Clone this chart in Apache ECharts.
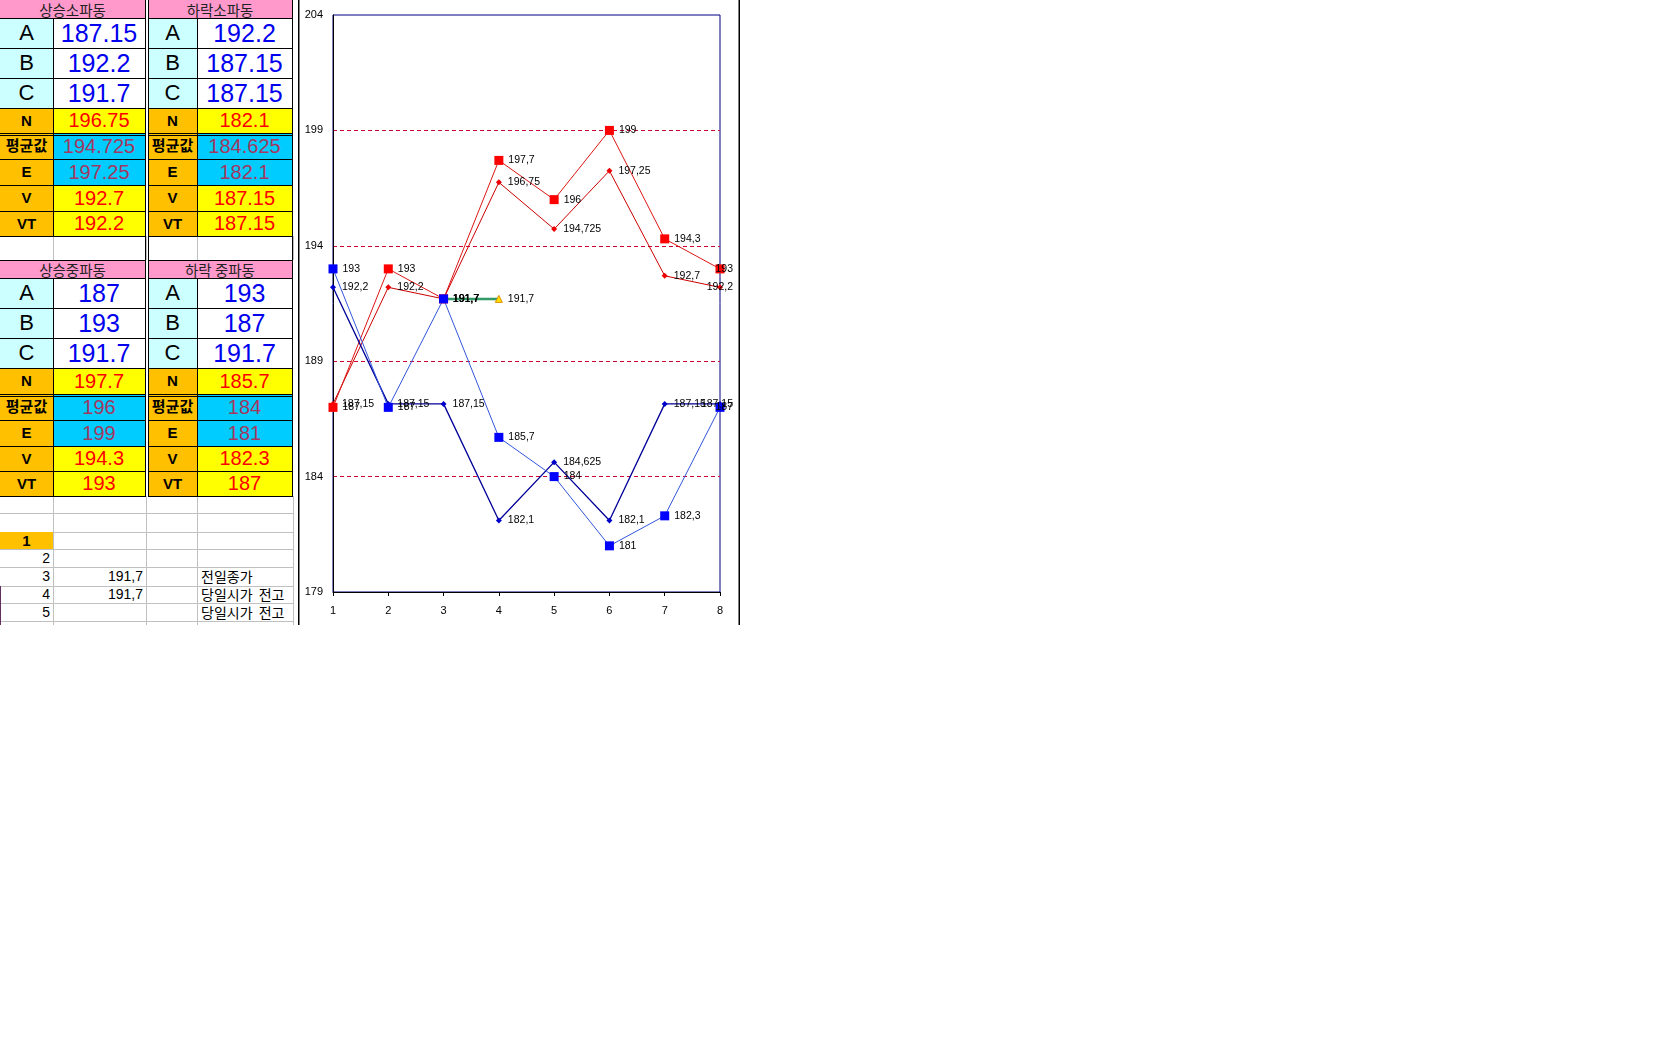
<!DOCTYPE html>
<html><head><meta charset="utf-8">
<script src="https://cdn.jsdelivr.net/npm/echarts@6/dist/echarts.min.js"></script>
<style>
html,body{margin:0;padding:0;background:#fff;width:1680px;height:1050px;overflow:hidden;}
#sheet{position:absolute;left:0;top:0;width:298px;height:625px;overflow:hidden;font-family:'Liberation Sans','Noto Sans CJK KR',Arial,sans-serif;}
.c{position:absolute;box-sizing:border-box;display:flex;align-items:center;justify-content:center;white-space:nowrap;overflow:hidden;}
#chart{position:absolute;left:298px;top:0;width:442px;height:625px;}
</style></head><body>
<div id="sheet"></div>
<div id="chart"></div>
<script>
// ---------- data ----------
const categories = ['1','2','3','4','5','6','7','8'];
const rowLabels = ['A','B','C','N','평균값','E','V','VT'];
const upSmall   = [187.15, 192.2, 191.7, 196.75, 194.725, 197.25, 192.7, 192.2];
const downSmall = [192.2, 187.15, 187.15, 182.1, 184.625, 182.1, 187.15, 187.15];
const upMid     = [187, 193, 191.7, 197.7, 196, 199, 194.3, 193];
const downMid   = [193, 187, 191.7, 185.7, 184, 181, 182.3, 187];
const prevClose = [null, null, 191.7, 191.7, null, null, null, null];
const titles = ['상승소파동','하락소파동','상승중파동','하락 중파동'];
const yMin = 179, yMax = 204, yStep = 5;
const sheetRowNums = ['1','2','3','4','5'];
const sheetValues = ['', '', '191,7', '191,7', ''];
const sheetNotes = ['', '', '전일종가', '당일시가 전고', '당일시가 전고'];

// ---------- spreadsheet ----------
const sheet = document.getElementById('sheet');
function box(x0,y0,x1,y1,css,text){
  const d=document.createElement('div'); d.className='c';
  d.style.cssText = `left:${x0}px;top:${y0}px;width:${x1-x0}px;height:${y1-y0}px;line-height:${y1-y0}px;`+(css||'');
  if(text!==undefined) d.textContent=text; sheet.appendChild(d); return d;
}
function hline(x0,x1,y,color,w){ box(x0,y,x1,y+(w||1),'background:'+color); }
function vline(x,y0,y1,color,w){ box(x,y0,x+(w||1),y1,'background:'+color); }

const GRAY='#C0C0C0';
[53,146,197,293].forEach(x=>{ vline(x,236,260,GRAY); vline(x,496,625,GRAY); });
[513,532,549,567,586,603,621].forEach(y=>hline(0,293,y,GRAY));
vline(0,586,625,'#603060');

const topRows = [0,18,48,78,108,133,159,185,211,236];
const botRows = [260,278,308,338,368,394,420,446,471,496];
const tables = [
  {rows:topRows, x:[0,53,145], vals:upSmall, title:titles[0]},
  {rows:topRows, x:[148,197,292], vals:downSmall, title:titles[1]},
  {rows:botRows, x:[0,53,145], vals:upMid, title:titles[2]},
  {rows:botRows, x:[148,197,292], vals:downMid, title:titles[3]},
];
function styleFor(i){
  if(i<3) return {lb:'#CCFFFF', lc:'font-size:22px;color:#000;', vb:'#FFFFFF', vc:'font-size:25px;color:#0000EE;'};
  if(i===4||i===5) return {lb:'#FFC000', lc:'font-size:15px;font-weight:bold;color:#000;', vb:'#00CCFF', vc:'font-size:20px;color:#A33860;'};
  return {lb:'#FFC000', lc:'font-size:15px;font-weight:bold;color:#000;', vb:'#FFFF00', vc:'font-size:20px;color:#FF0000;'};
}
tables.forEach(t=>{
  const r=t.rows, x=t.x;
  box(x[0],r[0],x[2],r[1],'background:#FF99CC;');
  box(x[0],r[0]-2,x[2],r[1]+2,'overflow:visible;font-family:"Noto Sans CJK KR";font-size:14.5px;line-height:16px;color:#222;padding-top:1px;',t.title);
  rowLabels.forEach((lab,i)=>{
    const s=styleFor(i);
    box(x[0],r[i+1],x[1],r[i+2],'background:'+s.lb+';'+s.lc,lab);
    box(x[1],r[i+1],x[2],r[i+2],'background:'+s.vb+';'+s.vc,String(t.vals[i]));
  });
  r.forEach((y,k)=>{ if(k>0 || r[0]>0) hline(x[0],x[2]+1,y,'#000'); });
  hline(x[0],x[2]+1,r[5]+2,'#000');
  vline(x[1],r[1],r[r.length-1],'#000');
  vline(x[2],r[0],r[r.length-1]+1,'#000');
  if(x[0]>0) vline(x[0],r[0],r[r.length-1]+1,'#000');
});
vline(145,236,260,'#000'); vline(148,236,260,'#000'); vline(292,236,260,'#000');

const lowRows=[532,549,567,586,603,621];
sheetRowNums.forEach((n,i)=>{
  const y0=lowRows[i], y1=lowRows[i+1];
  if(i===0){ box(0,y0,53,y1,'background:#FFC000;font-size:15px;font-weight:bold;color:#000;',n); }
  else box(0,y0,53,y1,'justify-content:flex-end;padding-right:3px;font-size:14px;color:#000;',n);
  if(sheetValues[i]) box(53,y0,146,y1,'justify-content:flex-end;padding-right:3px;font-size:14px;color:#000;',sheetValues[i]);
  if(sheetNotes[i]) box(197,y0,296,y1,'overflow:visible;justify-content:flex-start;padding-left:4px;font-size:14px;color:#000;font-family:"Noto Sans CJK KR";word-spacing:3px;',sheetNotes[i]);
});

// ---------- chart ----------
const chart = echarts.init(document.getElementById('chart'), null, {renderer:'canvas'});
const labelFmt = p => String(p.value).replace('.', ',');
const LABEL_LIMIT = 435;
function mk(name, data, lineColor, lineWidth, symbol, symbolSize, symbolColor, dist){
  return {
    name, type:'line', data, symbol, symbolSize, showAllSymbol:true, clip:false,
    lineStyle:{color:lineColor, width:lineWidth},
    itemStyle:{color:symbolColor, borderWidth:0},
    label:{show:true, position:'right', distance:dist, formatter:labelFmt, color:'#000', fontSize:10.5, fontFamily:'Liberation Sans, Arial, sans-serif'},
    labelLayout: function(params){
      const r = params.labelRect;
      if (r.x + r.width > LABEL_LIMIT) return {dx: LABEL_LIMIT - (r.x + r.width)};
      return {};
    },
    emphasis:{disabled:true}, silent:true
  };
}
const firstPrev = prevClose.findIndex(v=>v!=null);
const green = mk('전일종가', prevClose, '#339966', 2.5, (v,p)=> p.dataIndex===firstPrev ? 'none' : 'triangle', 7, '#FFE000', 5);
green.itemStyle = {color:'#FFE000', borderColor:'#E09000', borderWidth:1};

chart.setOption({
  animation:false,
  backgroundColor:'#fff',
  grid:{left:35, top:15, width:387, height:577, show:true, borderColor:'#000080', borderWidth:1, backgroundColor:'#fff'},
  xAxis:{type:'category', data:categories, boundaryGap:false,
    axisLine:{lineStyle:{color:'#000', width:1}},
    axisTick:{show:true, length:4, lineStyle:{color:'#000'}},
    axisLabel:{color:'#000', fontSize:11, margin:13, fontFamily:'Liberation Sans, Arial, sans-serif'},
    splitLine:{show:false}},
  yAxis:{type:'value', min:yMin, max:yMax, interval:yStep,
    axisLine:{show:true, lineStyle:{color:'#000', width:1}},
    axisTick:{show:false},
    axisLabel:{color:'#000', fontSize:11, margin:10, fontFamily:'Liberation Sans, Arial, sans-serif'},
    splitLine:{show:true, showMinLine:false, showMaxLine:false, lineStyle:{color:'#CC0033', type:[4,3], width:1}}},
  graphic:[
    {type:'rect', shape:{x:0, y:0, width:1.5, height:625}, style:{fill:'#000'}, silent:true},
    {type:'rect', shape:{x:440.5, y:0, width:1.5, height:625}, style:{fill:'#000'}, silent:true}
  ],
  series:[
    mk('상승소파동', upSmall, '#CC0000', 1, 'diamond', 6, '#EE0000', 6),
    mk('상승중파동', upMid, '#DD1515', 1, 'rect', 9, '#FF0000', 5),
    mk('하락소파동', downSmall, '#000099', 1.3, 'diamond', 6, '#0000CC', 6),
    mk('하락중파동', downMid, '#3355DD', 1, 'rect', 9, '#0000FF', 5),
    green
  ]
});
</script>
</body></html>
